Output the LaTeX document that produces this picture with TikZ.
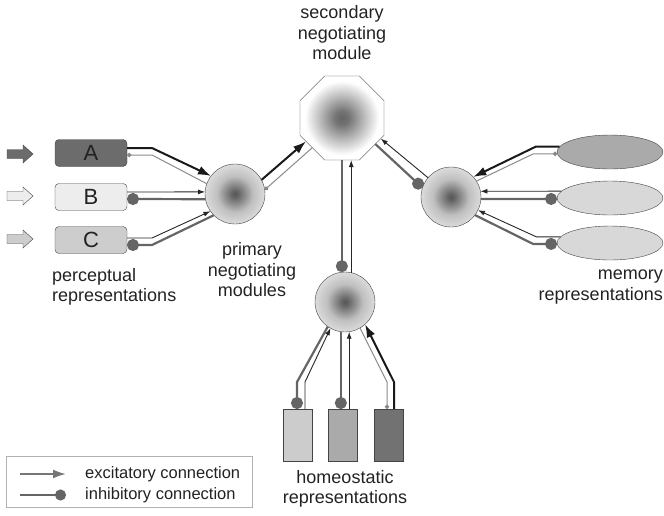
\documentclass[tikz,border=0pt]{standalone}
\usepackage{fontspec}
\setmainfont{Liberation Sans}
\usepackage{tikz}
\usepackage{xcolor}
\usetikzlibrary{arrows.meta,shapes.geometric}

\definecolor{edgegray}{HTML}{444444}
\definecolor{txtgray}{HTML}{222222}
\definecolor{fillA}{HTML}{6C6C6C}
\definecolor{fillB}{HTML}{EDEDED}
\definecolor{fillC}{HTML}{CDCDCD}
\definecolor{memdark}{HTML}{AAAAAA}
\definecolor{memlight}{HTML}{D8D8D8}
\definecolor{homlight}{HTML}{CCCCCC}
\definecolor{hommid}{HTML}{AAAAAA}
\definecolor{homdark}{HTML}{727272}
\definecolor{inhgray}{HTML}{656565}
\definecolor{weakgray}{HTML}{8A8A8A}
\definecolor{leggray}{HTML}{767676}

\pgfdeclareradialshading{modshade}{\pgfpoint{0bp}{0bp}}{color(0bp)=(black!66); color(3bp)=(black!60); color(15bp)=(black!25); color(25bp)=(black!14); color(50bp)=(black!14)}
\pgfdeclareradialshading{secshade}{\pgfpoint{0bp}{0bp}}{color(0bp)=(black!60); color(4bp)=(black!55); color(12bp)=(black!30); color(22bp)=(white); color(50bp)=(white)}

\begin{document}
\begin{tikzpicture}[x=1pt,y=-1pt,
  module/.style={circle,draw=edgegray,minimum size=60pt,inner sep=0pt,outer sep=0pt,shading=modshade},
  percbox/.style={draw=edgegray,rounded corners=4pt,minimum width=72pt,minimum height=27pt,inner sep=0pt,outer sep=0pt,font=\fontsize{22}{24}\selectfont,text=txtgray},
  membox/.style={ellipse,draw=edgegray,minimum width=106pt,minimum height=34pt,inner sep=0pt,outer sep=0pt},
  hombox/.style={draw=edgegray,minimum width=29pt,minimum height=52pt,inner sep=0pt,outer sep=0pt},
  lbl/.style={font=\fontsize{18}{20.5}\selectfont,text=txtgray,inner sep=0pt},
  exstrong/.style={draw=black!90,line width=2pt,-{Latex[length=13pt,width=9pt]}},
  exweak/.style={draw=black!85,line width=0.9pt,-{Latex[length=7pt,width=5pt]}},
  inhstrong/.style={draw=inhgray,line width=2.2pt,{Circle[length=12pt]}-},
  inhweak/.style={draw=weakgray,line width=1pt,{Circle[length=4.5pt]}-}]
  \useasboundingbox (0,0) rectangle (664,515);

  % modules
  \node[module] (lp) at (235,194) {};
  \node[module] (rp) at (451,197) {};
  \node[module] (bp) at (345,302) {};
  \node[regular polygon,regular polygon sides=8,minimum size=91pt,draw=edgegray,inner sep=0pt,outer sep=0pt,shading=secshade] (sec) at (342,118) {};

  % input arrows
  \foreach \y/\c in {154/fillA,196/fillB,239/fillC}
    \filldraw[draw=edgegray,fill=\c] (7,\y-4.5) -- (23,\y-4.5) -- (23,\y-9) -- (33,\y) -- (23,\y+9) -- (23,\y+4.5) -- (7,\y+4.5) -- cycle;

  % perceptual side
  \node[percbox,fill=fillA] (A) at (91,153) {A};
  \node[percbox,fill=fillB] (B) at (91,197) {B};
  \node[percbox,fill=fillC] (C) at (91,240) {C};

  % memory side
  \node[membox,fill=memdark] (m1) at (610,152) {};
  \node[membox,fill=memlight] (m2) at (610,198) {};
  \node[membox,fill=memlight] (m3) at (610,243) {};

  % homeostatic side
  \node[hombox,fill=homlight] (h1) at (297.5,435) {};
  \node[hombox,fill=hommid] (h2) at (342.5,435) {};
  \node[hombox,fill=homdark] (h3) at (388.5,435) {};

  % labels
  \node[lbl,align=center] (seclbl) at (342,33) {secondary\\negotiating\\module};
  \node[lbl,align=center] (primlbl) at (252,270) {primary\\negotiating\\modules};
  \node[lbl,align=left,anchor=west] (perclbl) at (52,287) {perceptual\\representations};
  \node[lbl,align=right,anchor=east] (memlbl) at (663,287) {memory\\representations};
  \node[lbl,align=center] (homlbl) at (345,489) {homeostatic\\representations};

  % perceptual -> left module
  \draw[exstrong] ([yshift=5pt]A.east) -- ++(25,0) -- (lp.143);
  \draw[inhweak] ([yshift=-2pt]A.east) -- ++(25,0) -- (lp.160);
  \draw[exweak] ([yshift=5pt]B.east) -- (lp.176);
  \draw[inhstrong] ([yshift=-2pt]B.east) -- (lp.190);
  \draw[exweak] ([yshift=2pt]C.east) -- ++(25,0) -- (lp.215);
  \draw[inhstrong] ([yshift=-5pt]C.east) -- ++(25,0) -- (lp.225);

  % memory -> right module
  \draw[exstrong] (m1.174) -- ++(-24,0) -- (rp.42);
  \draw[inhweak] (m1.182) -- ++(-24,0) -- (rp.32);
  \draw[exweak] (m2.172) -- (rp.11);
  \draw[inhstrong] (m2.181) -- (rp.356);
  \draw[exweak] (m3.173) -- ++(-24,0) -- (rp.334);
  \draw[inhstrong] (m3.181) -- ++(-24,0) -- (rp.323);

  % homeostatic -> bottom module
  \draw[inhstrong] ([xshift=-0.5pt]h1.north) -- ++(0,-27) -- (bp.235);
  \draw[exweak] ([xshift=7.5pt]h1.north) -- ++(0,-27) -- (bp.241);
  \draw[inhstrong] (h2.north -| bp.262) -- (bp.262);
  \draw[exweak] (h2.north -| bp.278) -- (bp.278);
  \draw[inhweak] ([xshift=-1.5pt]h3.north) -- ++(0,-27) -- (bp.300);
  \draw[exstrong] ([xshift=5.5pt]h3.north) -- ++(0,-27) -- (bp.312);

  % primary -> secondary
  \draw[exstrong] (lp.28) -- (sec.213);
  \draw[inhweak] (lp.8) -- (sec.225);
  \draw[exweak] (rp.140) -- (sec.332);
  \draw[inhstrong] (rp.162) -- (sec.322);
  \draw[inhstrong] (bp.96) -- (bp.96 |- sec.south);
  \draw[exweak] (bp.78) -- (bp.78 |- sec.south);

  % legend
  \node[draw=black!30,minimum width=246pt,minimum height=51pt,inner sep=0pt] (legend) at (129,481.5) {};
  \coordinate (exa) at (20,474);
  \coordinate (exb) at (66,474);
  \coordinate (ina) at (20,495);
  \coordinate (inb) at (66,495);
  \draw[draw=leggray,line width=1.8pt,-{Latex[length=13pt,width=9pt]}] (exa) -- (exb);
  \draw[draw=inhgray,line width=1.8pt,-{Circle[length=11pt]}] (ina) -- (inb);
  \node[lbl,anchor=west,font=\fontsize{16.5}{18}\selectfont] (exlbl) at (85,474) {excitatory connection};
  \node[lbl,anchor=west,font=\fontsize{16.5}{18}\selectfont] (inlbl) at (85,495) {inhibitory connection};
\end{tikzpicture}
\end{document}
